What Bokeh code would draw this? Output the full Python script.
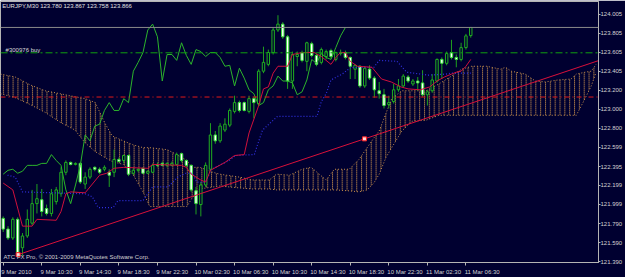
from bokeh.plotting import figure
from bokeh.models import ColumnDataSource, FixedTicker, Span, Range1d, CustomJSTickFormatter
from bokeh.embed import file_html
from bokeh.resources import INLINE
from bokeh.core.properties import value

# ---------------- data ----------------
header = "EURJPY,M30 123.780 123.867 123.758 123.866"
copyright_text = "ATC FX Pro, \u00a9 2001-2009 MetaQuotes Software Corp."
order_label = "#300976 buy"

opens = [121.849, 121.736, 121.642, 121.839, 121.539, 121.663, 121.798, 122.005, 122.046, 121.953,
         121.901, 122.026, 122.109, 122.336, 122.440, 122.419, 122.430, 122.212, 122.285, 122.388,
         122.368, 122.368, 122.336, 122.336, 122.471, 122.461, 122.513, 122.326, 122.357, 122.378,
         122.326, 122.336, 122.419, 122.430, 122.409, 122.409, 122.419, 122.533, 122.461, 122.409,
         122.140, 121.995, 122.202, 122.368, 122.730, 122.668, 122.782, 122.834, 122.979, 123.072,
         123.072, 122.979, 123.114, 123.062, 123.404, 123.476, 123.601, 123.839, 123.901, 123.767,
         123.300, 123.559, 123.601, 123.508, 123.694, 123.570, 123.497, 123.559, 123.621, 123.528,
         123.590, 123.601, 123.549, 123.425, 123.456, 123.248, 123.425, 123.331, 123.197, 123.155,
         123.052, 123.083, 123.207, 123.248, 123.342, 123.269, 123.300, 123.280, 123.155, 123.197,
         123.300, 123.528, 123.487, 123.601, 123.549, 123.528, 123.653, 123.780]
highs = [121.870, 121.767, 121.860, 121.860, 121.694, 121.943, 122.150, 122.212, 122.160, 121.995,
         122.160, 122.181, 122.388, 122.461, 122.450, 122.440, 122.440, 122.336, 122.388, 122.399,
         122.388, 122.409, 122.368, 122.575, 122.492, 122.523, 122.523, 122.388, 122.378, 122.388,
         122.357, 122.430, 122.440, 122.450, 122.440, 122.450, 122.544, 122.544, 122.471, 122.419,
         122.181, 122.233, 122.440, 122.855, 122.772, 122.855, 122.906, 123.010, 123.145, 123.093,
         123.083, 123.145, 123.134, 123.425, 123.663, 123.632, 123.860, 123.995, 123.922, 123.787,
         123.611, 123.611, 123.621, 123.715, 123.715, 123.590, 123.653, 123.632, 123.642, 123.611,
         123.632, 123.621, 123.559, 123.476, 123.466, 123.456, 123.466, 123.352, 123.290, 123.217,
         123.145, 123.269, 123.321, 123.373, 123.362, 123.321, 123.342, 123.414, 123.207, 123.373,
         123.539, 123.549, 123.611, 123.735, 123.580, 123.704, 123.798, 123.867]
lows = [121.705, 121.621, 121.621, 121.456, 121.456, 121.642, 121.777, 121.901, 121.870, 121.880,
        121.870, 121.995, 122.077, 122.305, 122.409, 122.409, 122.212, 122.160, 122.264, 122.347,
        122.316, 122.347, 122.181, 122.285, 122.440, 122.430, 122.295, 122.305, 122.336, 122.316,
        122.316, 122.326, 122.388, 122.399, 122.388, 122.399, 122.409, 122.440, 122.388, 122.129,
        121.891, 121.870, 122.181, 122.347, 122.637, 122.647, 122.761, 122.813, 122.958, 122.968,
        122.979, 122.958, 122.906, 123.041, 123.383, 123.456, 123.580, 123.818, 123.746, 123.217,
        123.217, 123.456, 123.497, 123.404, 123.549, 123.456, 123.476, 123.528, 123.539, 123.508,
        123.570, 123.528, 123.321, 123.321, 123.228, 123.228, 123.311, 123.124, 123.114, 123.010,
        123.010, 123.062, 123.186, 123.228, 123.280, 123.248, 123.197, 123.134, 123.041, 123.176,
        123.280, 123.321, 123.466, 123.528, 123.445, 123.508, 123.632, 123.758]
closes = [121.736, 121.642, 121.839, 121.487, 121.663, 121.839, 122.005, 122.057, 121.922, 121.901,
          122.109, 122.150, 122.336, 122.440, 122.419, 122.430, 122.233, 122.285, 122.368, 122.368,
          122.336, 122.388, 122.305, 122.471, 122.450, 122.513, 122.316, 122.357, 122.368, 122.326,
          122.347, 122.409, 122.409, 122.409, 122.430, 122.430, 122.523, 122.461, 122.409, 122.150,
          122.005, 122.202, 122.409, 122.730, 122.668, 122.824, 122.844, 122.989, 123.072, 122.989,
          122.989, 123.114, 123.072, 123.404, 123.497, 123.601, 123.839, 123.901, 123.767, 123.300,
          123.580, 123.580, 123.518, 123.704, 123.570, 123.476, 123.632, 123.611, 123.559, 123.601,
          123.601, 123.549, 123.456, 123.466, 123.248, 123.435, 123.331, 123.207, 123.166, 123.041,
          123.072, 123.207, 123.248, 123.352, 123.300, 123.300, 123.280, 123.155, 123.186, 123.311,
          123.528, 123.487, 123.590, 123.549, 123.528, 123.653, 123.777, 123.866]

# Ichimoku lines (bar index, price)
tenkan_x = [0, 2, 4, 6, 7, 11, 12, 13, 14, 17, 20, 21.5, 23, 25, 30, 31, 37, 38, 39, 41, 42, 43, 46, 48, 50,
            51, 53, 54, 55, 56, 57, 59, 60, 62, 64.5, 66, 68, 69, 70, 71, 72, 73.5, 76.5, 78.5, 80.5,
            82.5, 84, 86.5, 88.5, 90, 91.5, 93, 94, 95, 96, 97]
tenkan_y = [122.222, 122.150, 121.767, 121.767, 121.839, 121.829, 121.922, 122.109, 122.129, 122.119,
            122.305, 122.326, 122.378, 122.388, 122.378, 122.419, 122.409, 122.388, 122.316, 122.254,
            122.233, 122.357, 122.440, 122.513, 122.523, 122.751, 123.041, 123.217, 123.238, 123.383,
            123.456, 123.456, 123.580, 123.601, 123.601, 123.559, 123.476, 123.549, 123.601, 123.601,
            123.508, 123.456, 123.445, 123.321, 123.290, 123.238, 123.217, 123.207, 123.238, 123.300,
            123.342, 123.373, 123.393, 123.404, 123.456, 123.528]
kijun_x = [0.9, 2.5, 4.0, 17.0, 18.5, 19.7, 22.8, 23.8, 29.0, 30.0, 31.0, 34.2, 35.0, 36.2, 37.9, 39.3,
           40.1, 42.0, 43.2, 46.9, 48.2, 52.1, 52.9, 53.8, 56.9, 65.1, 66.0, 67.0, 68.0, 70.3, 72.2,
           76.9, 78.0, 81.7, 83.7, 88.3, 91.8, 92.8, 97.0]
kijun_y = [122.305, 122.285, 122.129, 122.109, 122.077, 121.963, 121.963, 122.036, 122.036, 122.109,
           122.181, 122.181, 122.222, 122.285, 122.326, 122.326, 122.233, 122.233, 122.368, 122.461,
           122.513, 122.523, 122.647, 122.782, 122.927, 122.927, 123.083, 123.166, 123.311, 123.373,
           123.445, 123.445, 123.518, 123.508, 123.393, 123.362, 123.373, 123.383, 123.383]
chikou_shift = 26

cloud_x = [-0.56, 2.5, 5.6, 8.7, 11.8, 14.9, 17.0, 19.1, 21.1, 22.6, 24.9, 26.9, 29.0, 30.4, 34.0,
           36.0, 38.1, 39.1, 40.8, 43.5, 44.9, 49.0, 51.7, 55.2, 56.7, 59.4, 62.0, 63.9, 65.1, 67.0,
           68.7, 71.8, 73.8, 75.5, 76.9, 78.0, 79.4, 80.6, 82.7, 84.8, 87.7, 90.4, 93.0, 95.1, 97.2,
           100.3, 103.2, 104.2, 105.4, 108.3, 110.4, 112.5, 115.1, 117.8, 118.9, 120.7, 122.0, 123.0]
cloud_upper = [123.373, 123.342, 123.259, 123.197, 123.166, 123.134, 123.114, 123.072, 122.855, 122.720,
               122.668, 122.627, 122.596, 122.596, 122.575, 122.523, 122.461, 122.388, 122.388, 122.336,
               122.316, 122.285, 122.254, 122.254, 122.316, 122.305, 122.368, 122.388, 122.336, 122.254,
               122.368, 122.368, 122.471, 122.596, 122.699, 122.772, 122.958, 123.114, 123.197, 123.197,
               123.197, 123.269, 123.352, 123.425, 123.456, 123.456, 123.425, 123.445, 123.404, 123.373,
               123.300, 123.290, 123.311, 123.321, 123.373, 123.393, 123.404, 123.476]
cloud_lower = [123.166, 123.124, 123.052, 122.969, 122.865, 122.782, 122.647, 122.554, 122.492, 122.450,
               122.419, 122.316, 122.129, 121.974, 121.974, 121.974, 121.974, 122.057, 122.160, 122.181,
               122.191, 122.171, 122.160, 122.160, 122.150, 122.150, 122.150, 122.150, 122.150, 122.150,
               122.150, 122.140, 122.129, 122.150, 122.223, 122.316, 122.492, 122.596, 122.772, 122.875,
               122.886, 122.938, 122.938, 122.938, 122.938, 122.938, 122.938, 122.938, 122.938, 122.938,
               122.938, 122.938, 122.938, 122.938, 122.938, 123.114, 123.248, 123.393]

bid_price = 123.866
order_price = 123.598
stop_price = 123.131
trend_x = [3.1, 146.8]
trend_y = [121.466, 123.912]
trend_marks_x = [3.1, 74.95]
trend_marks_y = [121.466, 122.689]

price_ticks = [124.005, 123.805, 123.605, 123.405, 123.200, 123.000, 122.800, 122.599,
               122.395, 122.199, 121.999, 121.790, 121.590, 121.390]
time_ticks = [0, 8, 16, 24, 32, 40, 48, 56, 64, 72, 80, 88, 96]
time_labels = ["9 Mar 2010", "9 Mar 10:30", "9 Mar 14:30", "9 Mar 18:30", "9 Mar 22:30",
               "10 Mar 02:30", "10 Mar 06:30", "10 Mar 10:30", "10 Mar 14:30", "10 Mar 18:30",
               "10 Mar 22:30", "11 Mar 02:30", "11 Mar 06:30"]

# ---------------- figure ----------------
FONT = "Liberation Sans"
BG = "#000030"
BORDER = "#b4b4b4"
TXT = "#d2d2d2"

p = figure(width=625, height=277, output_backend="svg", toolbar_location=None,
           x_range=Range1d(-0.56, 123.5), y_range=Range1d(121.383, 124.140),
           y_axis_location="right", min_border_left=0, min_border_top=1,
           min_border_bottom=0, min_border_right=0)
p.background_fill_color = BG
p.border_fill_color = BG
p.outline_line_color = BORDER
p.grid.visible = False

yax = p.yaxis[0]
yax.ticker = FixedTicker(ticks=price_ticks)
yax.formatter = CustomJSTickFormatter(code="return tick.toFixed(3);")
yax.axis_line_color = BORDER
yax.major_tick_line_color = BORDER
yax.major_tick_out = 2
yax.major_tick_in = 0
yax.minor_tick_line_color = None
yax.major_label_standoff = 0
yax.major_label_text_color = TXT
yax.major_label_text_font = FONT
yax.major_label_text_font_size = "6px"

# label centres (labels start at their tick, as in the terminal)
centers = [t - 0.3 + len(s) * 2.95 / 2 / 4.84 for t, s in zip(time_ticks, time_labels)]
xax = p.xaxis[0]
xax.ticker = FixedTicker(ticks=centers, minor_ticks=time_ticks)
xax.major_label_overrides = {c: s for c, s in zip(centers, time_labels)}
xax.axis_line_color = BORDER
xax.major_tick_out = 0
xax.major_tick_in = 0
xax.minor_tick_out = 3
xax.minor_tick_in = 0
xax.minor_tick_line_color = BORDER
xax.major_label_standoff = 3
xax.major_label_text_color = TXT
xax.major_label_text_font = FONT
xax.major_label_text_font_size = "6px"

# cloud
TAN = "#c8904c"
poly_x = cloud_x + cloud_x[::-1]
poly_y = cloud_upper + cloud_lower[::-1]
p.patch(poly_x, poly_y, fill_color=None, line_color=None,
        hatch_pattern="|", hatch_color=TAN, hatch_scale=4.84, hatch_weight=1, hatch_alpha=0.75)
p.patch(poly_x, poly_y, fill_color=None, line_color=None,
        hatch_pattern="-", hatch_color=BG, hatch_scale=2, hatch_weight=1, hatch_alpha=0.8)
p.line(cloud_x, cloud_upper, line_color=TAN, line_dash="1 2", line_width=1)
p.line(cloud_x, cloud_lower, line_color=TAN, line_dash="1 2", line_width=1)

# candles
n = len(opens)
idx = list(range(n))
bull = [c >= o for o, c in zip(opens, closes)]
src = ColumnDataSource(dict(
    x=idx, high=highs, low=lows,
    top=[max(o, c) for o, c in zip(opens, closes)],
    bottom=[min(o, c) for o, c in zip(opens, closes)],
    fill=[BG if b else "#ffffff" for b in bull],
    edge=["#20b020" if b else "#3ae03a" for b in bull],
))
p.segment(x0="x", y0="high", x1="x", y1="low", line_color="#1fa01f", line_width=1, source=src)
p.vbar(x="x", top="top", bottom="bottom", width=0.5, fill_color="fill", line_color="edge",
       line_width=1, source=src)

# ichimoku lines
p.line(idx[:n - chikou_shift], closes[chikou_shift:], line_color="#2cb42c", line_width=1)
p.line(kijun_x, kijun_y, line_color="#3030e0", line_dash="1 2", line_width=1.2)
p.line(tenkan_x, tenkan_y, line_color="#d0103c", line_width=1)

# horizontal lines
p.add_layout(Span(location=bid_price, dimension="width", line_color="#8a8a8a", line_width=1))
p.add_layout(Span(location=order_price, dimension="width", line_color="#10a010", line_width=1,
                  line_dash="7 3 2 3"))
p.add_layout(Span(location=stop_price, dimension="width", line_color="#e01818", line_width=1,
                  line_dash="5 3 1 3"))

# trend line
p.line(trend_x, trend_y, line_color="#d8103a", line_width=1)
p.scatter(trend_marks_x, trend_marks_y, marker="square", size=4, fill_color="#ffd8d8",
          line_color="#ff2020", line_width=1)

# texts
p.text(x=[-0.2], y=[124.093], text=[header], text_font=value(FONT), text_font_size=value("6px"),
       text_color="#e0e0e0", text_baseline="middle", text_align="left")
p.text(x=[0.5], y=[123.628], text=[order_label], text_font=value(FONT), text_font_size=value("6px"),
       text_color="#d8d8d8", text_baseline="middle", text_align="left")
p.text(x=[0.06], y=[121.44], text=[copyright_text], text_font=value(FONT),
       text_font_size=value("6px"), text_color="#d0d0d0", text_baseline="middle", text_align="left")

open("out.html", "w").write(file_html(p, INLINE))
